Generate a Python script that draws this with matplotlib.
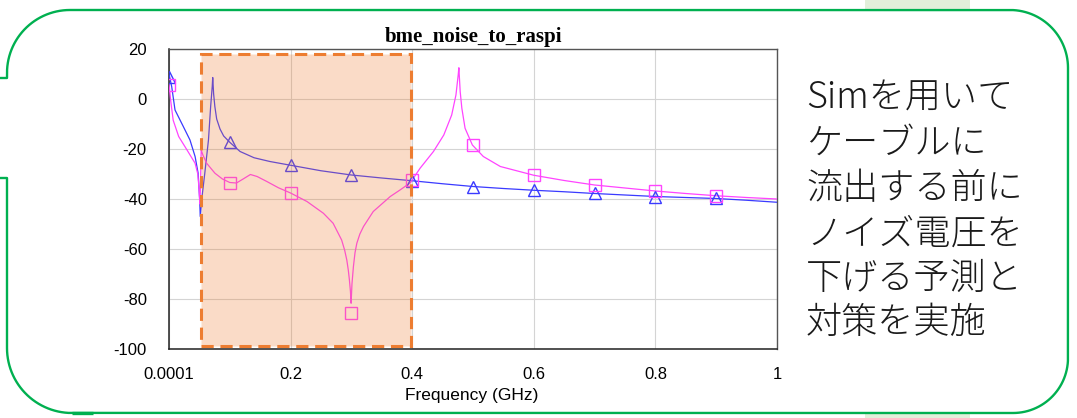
import numpy as np
import matplotlib
matplotlib.use("Agg")
import matplotlib.pyplot as plt
from matplotlib.patches import Rectangle, PathPatch
from matplotlib.path import Path

plt.rcParams["axes.unicode_minus"] = False

# ---------------- data ----------------
title = "bme_noise_to_raspi"
xlabel = "Frequency (GHz)"
x_ticks = [0.0001, 0.2, 0.4, 0.6, 0.8, 1.0]
x_tick_labels = ["0.0001", "0.2", "0.4", "0.6", "0.8", "1"]
y_ticks = [20, 0, -20, -40, -60, -80, -100]

blue_f = [0.0001, 0.0045, 0.010, 0.0236, 0.0346, 0.043, 0.048, 0.0505, 0.0515,
          0.054, 0.059, 0.065, 0.0686, 0.0712, 0.072, 0.0735, 0.0755, 0.0785,
          0.084, 0.090, 0.100, 0.117, 0.140, 0.166, 0.200, 0.250, 0.300, 0.350,
          0.400, 0.450, 0.500, 0.550, 0.600, 0.650, 0.700, 0.750, 0.800, 0.850,
          0.900, 0.950, 1.000]
blue_db = [10.0, 5.0, -4.4, -11.0, -16.4, -23.0, -29.7, -40.0, -47.0,
           -40.0, -29.6, -16.4, -3.0, 5.0, 8.6, 2.0, -3.0, -8.0,
           -12.0, -14.8, -17.3, -21.0, -23.5, -25.0, -26.5, -28.7, -30.4, -31.6,
           -32.7, -33.9, -35.0, -35.8, -36.5, -37.1, -37.8, -38.4, -39.0, -39.4,
           -39.8, -40.5, -41.3]

pink_f = [0.0001, 0.0028, 0.007, 0.016, 0.030, 0.043, 0.0475, 0.0495, 0.0508,
          0.0515, 0.053, 0.056, 0.062, 0.0757, 0.088, 0.100, 0.111, 0.122,
          0.134, 0.145, 0.161, 0.180, 0.200, 0.227, 0.254, 0.270, 0.284,
          0.289, 0.2925, 0.295, 0.2968, 0.2985, 0.2996, 0.301, 0.3034, 0.306,
          0.309, 0.314, 0.320, 0.336, 0.364, 0.380,
          0.397, 0.413, 0.435, 0.452, 0.465, 0.472, 0.4757, 0.4768, 0.479,
          0.4817, 0.487, 0.499, 0.517, 0.545, 0.600, 0.650, 0.700, 0.750,
          0.800, 0.850, 0.900, 0.950, 1.000]
pink_db = [6.0, -0.5, -8.5, -15.0, -20.5, -25.7, -30.0, -36.0, -42.0,
           -38.0, -20.4, -22.5, -25.7, -29.7, -32.0, -33.4, -33.6, -32.0,
           -30.2, -31.0, -33.0, -35.5, -37.6, -41.0, -45.7, -49.7, -56.4,
           -60.5, -64.4, -68.5, -72.4, -77.0, -81.7, -74.0, -67.0, -61.5,
           -57.7, -54.0, -51.0, -45.0, -39.0, -36.4,
           -33.5, -27.7, -21.0, -14.4, -6.4, 1.6, 9.6, 12.5, 2.9,
           -3.7, -11.7, -18.4, -23.0, -27.0, -30.5, -32.6, -34.4, -35.6,
           -36.8, -37.8, -38.7, -39.4, -40.0]

marker_f = [0.0001, 0.1, 0.2, 0.3, 0.4, 0.5, 0.6, 0.7, 0.8, 0.9]
blue_marker_db = [9.0, -17.3, -26.4, -30.4, -32.7, -35.0, -36.4, -37.7, -39.0, -39.6]
pink_marker_db = [5.6, -33.5, -37.7, -85.5, -32.5, -18.4, -30.5, -34.4, -36.7, -38.7]

box_f = [0.0527, 0.398]      # highlighted band (GHz)
box_db = [-98.7, 17.9]       # highlighted band (dB)

side_lines = ["Simを用いて", "ケーブルに", "流出する前に", "ノイズ電圧を",
              "下げる予測と", "対策を実施"]

# ---------------- figure ----------------
W, H = 1077, 418
fig = plt.figure(figsize=(W / 100, H / 100), dpi=100)
fig.patch.set_facecolor("white")

# decorative overlay in pixel coordinates
ov = fig.add_axes([0, 0, 1, 1], zorder=0)
ov.set_xlim(0, W)
ov.set_ylim(H, 0)
ov.axis("off")

green = "#00B050"
ov.add_patch(Rectangle((865, 0), 105, 9, color="#E2EFDA", lw=0, zorder=0))
ov.add_patch(Rectangle((865, 413), 105, 5, color="#E2EFDA", lw=0, zorder=0))


def arc(cx, cy, r, a0, a1, n=30):
    t = np.radians(np.linspace(a0, a1, n))
    return list(zip(cx + r * np.cos(t), cy + r * np.sin(t)))

L, R, T, B = 7, 1068, 10, 413
pts = [(0, 78), (L, 78), (L, 73)]
pts += arc(70, 73, 63, 180, 270)
pts += [(1010, T)]
pts += arc(1010, 68, 58, 270, 360)
pts += [(R, 358)]
pts += arc(1013, 358, 55, 0, 90)
pts += [(72, B)]
pts += arc(72, 348, 65, 90, 180)
pts += [(L, 178), (0, 178)]
ov.add_patch(PathPatch(Path(pts), fill=False, edgecolor=green, lw=1.7,
                       capstyle="butt", joinstyle="round", zorder=1))
ov.plot([72, 93], [B, B], color=green, lw=2.4, solid_capstyle="butt", zorder=1)

ys = [98, 143, 189, 234, 279, 323]
for s, y in zip(side_lines, ys):
    ov.text(806, y, s, fontsize=26, va="center", ha="left", color="#1a1a1a",
            family=["Noto Sans CJK JP", "DejaVu Sans"], fontweight="light",
            zorder=2)

# main chart
ax = fig.add_axes([169 / W, (H - 349) / H, 608 / W, 300 / H], zorder=2)
ax.set_facecolor("white")
ax.set_xlim(0.0001, 1.0)
ax.set_ylim(-100, 20)
ax.set_xticks(x_ticks)
ax.set_xticklabels(x_tick_labels)
ax.set_yticks(y_ticks)
ax.grid(True, color="#d4d4d4", lw=0.8, zorder=0)
ax.tick_params(length=0, labelsize=12, pad=13)
ax.tick_params(axis="y", pad=16)
for lab in ax.get_xticklabels() + ax.get_yticklabels():
    lab.set_fontfamily("Liberation Sans")
for side in ["left", "bottom"]:
    ax.spines[side].set_color("#222222")
    ax.spines[side].set_linewidth(1.1)
for side in ["top", "right"]:
    ax.spines[side].set_color("#555555")
    ax.spines[side].set_linewidth(1.0)

blue = "#3A3AFF"
pink = "#FF44FF"
ax.plot(blue_f, blue_db, color=blue, lw=0.9, zorder=3)
ax.plot(pink_f, pink_db, color=pink, lw=0.9, zorder=3)
ax.plot(marker_f, blue_marker_db, ls="none", marker="^", ms=9, mfc="none",
        mec=blue, mew=1.0, zorder=4)
ax.plot(marker_f, pink_marker_db, ls="none", marker="s", ms=8, mfc="none",
        mec=pink, mew=1.0, zorder=4)

ax.add_patch(Rectangle((box_f[0], box_db[0]), box_f[1] - box_f[0],
                       box_db[1] - box_db[0],
                       facecolor=(0.929, 0.49, 0.192, 0.27),
                       edgecolor="#ED7D31", lw=2.2, ls=(0, (4, 2.2)), zorder=5))

ax.set_title(title, fontsize=15, fontweight="bold", family="Liberation Serif",
             pad=5)
ax.set_xlabel(xlabel, fontsize=12.5, family="Liberation Sans")
ax.xaxis.set_label_coords(0.498, -0.13)

fig.savefig("out.png", dpi=100)
